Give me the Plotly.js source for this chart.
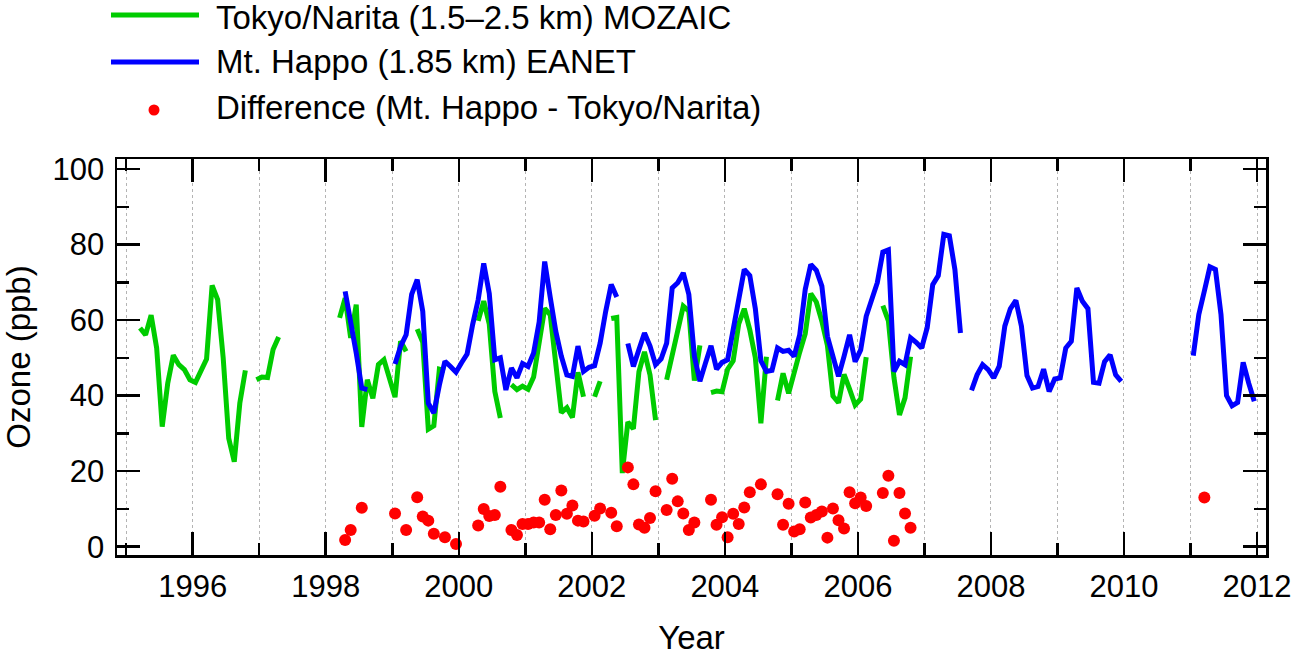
<!DOCTYPE html>
<html>
<head>
<meta charset="utf-8">
<script src="https://cdn.plot.ly/plotly-3.0.1.min.js"></script>
<style>
  html, body { margin: 0; padding: 0; background: white; }
  #chart { width: 1292px; height: 656px; }
</style>
</head>
<body>
<div id="chart"></div>
<script>
// Monthly ozone, Jan 1995 .. Dec 2011 (12 values per year, null = no data)
const firstYear = 1995;
const lastYear = 2011;

const tokyoNarita = [
  /*1995*/ null, null, 57.9, 56.1, 61.3, 52.6, 31.8, 43.3, 50.7, 48.2, 46.9, 44.2,
  /*1996*/ 43.5, 46.7, 49.7, 69.2, 65.4, 50.0, 28.7, 22.5, 38.0, 46.7, null, 44.2,
  /*1997*/ 44.9, 44.8, 52.2, 55.5, null, null, null, null, null, null, null, null,
  /*1998*/ null, null, 60.6, 65.8, 55.3, 64.1, 31.7, 44.2, 39.3, 48.2, 49.5, 45.0,
  /*1999*/ 39.6, 54.4, 51.7, null, 57.6, 54.1, 31.1, 32.0, 47.0, 46.6, null, 45.5,
  /*2000*/ null, null, null, 59.8, 65.0, 58.9, 41.1, 34.1, null, 42.9, 41.6, 42.5,
  /*2001*/ 41.7, 44.9, 53.1, 63.1, 61.4, 48.6, 35.5, 36.8, 34.2, 46.2, 39.7, null,
  /*2002*/ 39.7, 43.8, null, 60.4, 60.7, 19.5, 33.0, 31.2, 46.3, 51.6, 45.5, 33.5,
  /*2003*/ null, 44.2, 50.5, 57.9, 63.7, 62.4, 44.0, 53.3, null, 40.8, 41.2, 41.0,
  /*2004*/ 47.0, 49.2, 59.0, 63.0, 57.4, 50.0, 32.7, 50.3, null, 38.7, 45.9, 40.6,
  /*2005*/ 46.4, 51.5, 56.4, 67.0, 64.8, 59.7, 53.3, 39.9, 38.1, 45.6, 41.7, 37.5,
  /*2006*/ 39.1, 50.2, null, null, 63.8, 59.8, 44.8, 34.9, 39.4, 50.3, null, null,
  /*2007*/ null, null, null, null, null, null, null, null, null, null, null, null,
  /*2008*/ null, null, null, null, null, null, null, null, null, null, null, null,
  /*2009*/ null, null, null, null, null, null, null, null, null, null, null, null,
  /*2010*/ null, null, null, null, null, null, null, null, null, null, null, null,
  /*2011*/ null, null, 54.7, null, null, null, null, null, null, null, null, null
];

const mtHappo = [
  /*1995*/ null, null, null, null, null, null, null, null, null, null, null, null,
  /*1996*/ null, null, null, null, null, null, null, null, null, null, null, null,
  /*1997*/ null, null, null, null, null, null, null, null, null, null, null, null,
  /*1998*/ null, null, null, 67.6, 59.7, 51.3, 42.0, 41.6, null, null, null, null,
  /*1999*/ 48.4, 53.0, 56.1, 66.8, 70.7, 62.3, 38.0, 35.4, 42.8, 49.1, 47.7, 46.2,
  /*2000*/ 48.7, 51.0, 58.8, 65.4, 75.0, 67.0, 49.5, 50.0, 41.5, 47.3, 44.7, 48.5,
  /*2001*/ 47.7, 51.3, 59.5, 75.5, 66.0, 57.0, 50.4, 45.5, 45.1, 53.1, 46.4, 47.5,
  /*2002*/ 47.9, 53.9, 62.3, 69.4, 66.1, null, 53.8, 47.7, 52.2, 56.6, 53.1, 48.2,
  /*2003*/ 49.7, 53.9, 68.5, 69.9, 72.5, 66.8, 50.4, 43.8, 48.6, 53.2, 47.0, 48.8,
  /*2004*/ 49.5, 57.9, 65.0, 73.4, 71.8, 63.0, 49.2, 46.4, 46.7, 52.6, 51.7, 52.0,
  /*2005*/ 50.4, 56.1, 68.1, 74.7, 73.2, 69.0, 55.7, 50.0, 45.1, 50.4, 56.1, 49.0,
  /*2006*/ 52.1, 61.0, 65.9, 69.9, 78.0, 78.6, 46.4, 49.1, 48.2, 55.3, 54.1, 52.6,
  /*2007*/ 58.0, 69.4, 71.8, 82.7, 82.3, 73.4, 56.6, null, 41.4, 45.5, 48.2, 46.9,
  /*2008*/ 44.7, 47.8, 58.4, 63.0, 65.2, 58.4, 45.3, 42.0, 42.4, 47.0, 41.1, 44.4,
  /*2009*/ 44.7, 52.6, 54.4, 68.5, 65.0, 63.0, 43.5, 43.3, 49.0, 50.8, 45.5, 43.8,
  /*2010*/ null, null, null, null, null, null, null, null, null, null, null, null,
  /*2011*/ 50.6, 61.5, 67.7, 74.1, 73.4, 61.5, 40.0, 37.3, 38.2, 48.8, 43.3, 38.5
];

const difference = [
  /*1995*/ null, null, null, null, null, null, null, null, null, null, null, null,
  /*1996*/ null, null, null, null, null, null, null, null, null, null, null, null,
  /*1997*/ null, null, null, null, null, null, null, null, null, null, null, null,
  /*1998*/ null, null, null, 1.8, 4.4, null, 10.3, null, null, null, null, null,
  /*1999*/ 8.8, null, 4.4, null, 13.1, 8.0, 6.9, 3.4, null, 2.5, null, 0.7,
  /*2000*/ null, null, null, 5.6, 10.0, 8.1, 8.4, 15.9, null, 4.4, 3.1, 6.0,
  /*2001*/ 6.0, 6.4, 6.4, 12.4, 4.6, 8.4, 14.9, 8.7, 10.9, 6.9, 6.7, null,
  /*2002*/ 8.2, 10.1, null, 9.0, 5.4, null, 21.0, 16.5, 5.9, 5.0, 7.6, 14.7,
  /*2003*/ null, 9.7, 18.0, 12.0, 8.8, 4.4, 6.4, null, null, 12.4, 5.8, 7.8,
  /*2004*/ 2.5, 8.7, 6.0, 10.4, 14.4, null, 16.5, null, null, 13.9, 5.8, 11.4,
  /*2005*/ 4.0, 4.6, 11.7, 7.7, 8.4, 9.3, 2.4, 10.1, 7.0, 4.8, 14.4, 11.5,
  /*2006*/ 13.0, 10.8, null, null, 14.2, 18.8, 1.6, 14.2, 8.8, 5.0, null, null,
  /*2007*/ null, null, null, null, null, null, null, null, null, null, null, null,
  /*2008*/ null, null, null, null, null, null, null, null, null, null, null, null,
  /*2009*/ null, null, null, null, null, null, null, null, null, null, null, null,
  /*2010*/ null, null, null, null, null, null, null, null, null, null, null, null,
  /*2011*/ null, null, 13.0, null, null, null, null, null, null, null, null, null
];

const seriesNames = [
  'Tokyo/Narita (1.5\u20132.5 km) MOZAIC',
  'Mt. Happo (1.85 km) EANET',
  'Difference (Mt. Happo - Tokyo/Narita)'
];
const seriesColors = ['#00cc00', '#0000ff', '#ff0000'];

// decimal-year position of each month (middle of the month)
const months = [];
for (let y = firstYear; y <= lastYear; y++) {
  for (let m = 1; m <= 12; m++) months.push(y + (m - 0.5) / 12);
}

const W = 1292, H = 656;
const M = { l: 117, r: 26, t: 159, b: 101 };
const PW = W - M.l - M.r, PH = H - M.t - M.b;
const px = v => (v - M.l) / PW;          // pixel -> paper x
const py = v => (H - M.b - v) / PH;      // pixel -> paper y

const FONT = 'Liberation Sans, Arial, Helvetica, sans-serif';

const traces = [
  {
    x: months, y: tokyoNarita, name: seriesNames[0],
    type: 'scatter', mode: 'lines',
    line: { color: seriesColors[0], width: 5 }
  },
  {
    x: months, y: mtHappo, name: seriesNames[1],
    type: 'scatter', mode: 'lines',
    line: { color: seriesColors[1], width: 5 }
  },
  {
    x: months, y: difference, name: seriesNames[2],
    type: 'scatter', mode: 'markers',
    marker: { color: seriesColors[2], size: 12 }
  }
];

// hand-drawn legend (long line samples like the original)
const symbolRows = [15, 62, 110];
const textRows = [17, 61, 108];
const shapes = [
  { type: 'line', xref: 'paper', yref: 'paper', x0: px(111), x1: px(199), y0: py(symbolRows[0]), y1: py(symbolRows[0]),
    line: { color: seriesColors[0], width: 5 } },
  { type: 'line', xref: 'paper', yref: 'paper', x0: px(111), x1: px(199), y0: py(symbolRows[1]), y1: py(symbolRows[1]),
    line: { color: seriesColors[1], width: 5 } },
  { type: 'circle', xref: 'paper', yref: 'paper', xsizemode: 'pixel', ysizemode: 'pixel',
    xanchor: px(154), yanchor: py(symbolRows[2]), x0: -5.5, x1: 5.5, y0: -5.5, y1: 5.5,
    fillcolor: seriesColors[2], line: { width: 0 } }
];
const annotations = seriesNames.map((name, i) => ({
  text: name, xref: 'paper', yref: 'paper',
  x: px(214), y: py(textRows[i]), xanchor: 'left', yanchor: 'middle',
  showarrow: false, font: { family: FONT, size: 33, color: 'black' }
}));

const axisCommon = {
  showline: true, linecolor: 'black', linewidth: 2.5, mirror: 'allticks',
  ticks: 'inside', ticklen: 23, tickwidth: 2.5, tickcolor: 'black',
  zeroline: false, ticklabeloverflow: 'allow',
  tickfont: { family: FONT, size: 31, color: 'black' }
};

const layout = {
  width: W, height: H,
  margin: M,
  paper_bgcolor: 'white', plot_bgcolor: 'white',
  showlegend: false,
  font: { family: FONT, color: 'black' },
  xaxis: Object.assign({}, axisCommon, {
    range: [1994.862, 2012.135],
    tickmode: 'linear', tick0: 1996, dtick: 2,
    showgrid: true, gridcolor: '#b4b4b4', gridwidth: 1, griddash: 'dot',
    ticklabelstandoff: 2,
    minor: { tick0: 1995, dtick: 1, ticks: 'inside', ticklen: 12, tickwidth: 2.5, tickcolor: 'black',
             showgrid: true, gridcolor: '#b4b4b4', gridwidth: 1, griddash: 'dot' },
    title: { text: 'Year', font: { family: FONT, size: 33, color: 'black' }, standoff: 33 }
  }),
  yaxis: Object.assign({}, axisCommon, {
    range: [-2.2, 102.65],
    tickmode: 'linear', tick0: 0, dtick: 20,
    showgrid: false,
    ticklabelstandoff: 4,
    minor: { tick0: 0, dtick: 10, ticks: 'inside', ticklen: 12, tickwidth: 2.5, tickcolor: 'black', showgrid: false },
    title: { text: 'Ozone (ppb)', font: { family: FONT, size: 33, color: 'black' }, standoff: 28 }
  }),
  shapes: shapes,
  annotations: annotations
};

Plotly.newPlot('chart', traces, layout, { displayModeBar: false, staticPlot: true });
</script>
</body>
</html>
